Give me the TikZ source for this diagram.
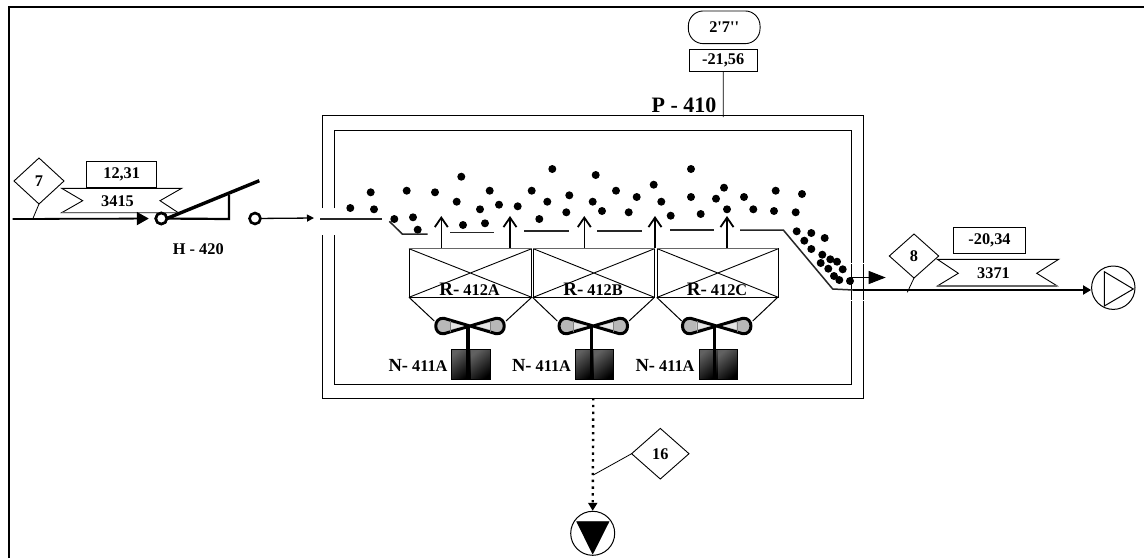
\documentclass[tikz,border=0pt]{standalone}
\usepackage{fontspec}
\setmainfont{Liberation Serif}
\newfontfamily\rawf{Liberation Serif}
\usetikzlibrary{arrows.meta,shapes.geometric,calc}
\tikzset{
  lbl/.style={font=\fontsize{16.3}{18}\selectfont\bfseries,inner sep=0pt,outer sep=0pt},
  bigl/.style={font=\fontsize{22}{24}\selectfont\bfseries,inner sep=0pt,outer sep=0pt},
  tag/.style={draw,line width=0.9pt,diamond,aspect=1.08,inner sep=0pt,outer sep=0pt,lbl},
  valbox/.style={draw,line width=0.9pt,rectangle,inner sep=0pt,outer sep=0pt,lbl},
  ring/.style={circle,draw,line width=2.6pt,inner sep=0pt,outer sep=0pt,minimum size=11pt,fill=white},
  thin line/.style={line width=0.8pt},
  belt/.style={line width=1.5pt,draw=black!85},
  flow/.style={line width=1.8pt},
  upflow/.style={line width=1.2pt,-{Straight Barb[length=9.5pt,width=13pt,line width=1.8pt]}},
  pelt/.style={circle,fill=black,inner sep=0pt,minimum size=8pt},
}
\newcommand{\tankunit}[2]{% left, right
  \draw[line width=1pt] (#1,248.7) rectangle (#2,297.3);
  \draw[line width=0.9pt] (#1,248.7) -- (#2,297.3) (#2,248.7) -- (#1,297.3);
  \draw[line width=1.5pt,draw=black!60] (#1,248.7) -- (#2,248.7);
}
\newcommand{\blowerunit}[3]{% centre x, motor left, motor right
  \draw[line width=3pt,fill=black!28,line join=round]
    (#1,326) -- (#1-26,318.3)
    .. controls (#1-37,317) and (#1-37,335) .. (#1-26,333.7)
    -- (#1,326)
    -- (#1+26,318.3)
    .. controls (#1+37,317) and (#1+37,335) .. (#1+26,333.7)
    -- cycle;
  \fill[black!10] (#1-20,322.5) -- (#1-20,329.5) -- (#1-6,326) -- cycle;
  \fill[black!10] (#1+20,322.5) -- (#1+20,329.5) -- (#1+6,326) -- cycle;
  \draw[line width=0.4pt,black!50] (#1-20,320.5) -- (#1-20,331.5) (#1+20,320.5) -- (#1+20,331.5);
  \shade[top color=black!62,bottom color=black,shading angle=40] (#2,349) rectangle ({(#2+#3)/2},379.5);
  \shade[top color=black!62,bottom color=black,shading angle=40] ({(#2+#3)/2},349) rectangle (#3,379.5);
  \draw[line width=1pt] (#2,349) rectangle (#3,379.5);
  \draw[line width=3.2pt] (#1-2,326) -- (#1-2,380);
}
\begin{document}
\begin{tikzpicture}[x=1pt,y=-1pt]
\useasboundingbox (0,0) rectangle (1144,558);
\fill[white] (0,0) rectangle (1144,558);
% frame
\draw[line width=2pt] (8.7,558) -- (8.7,6.7) -- (1144,6.7);

% vessel double wall with the inlet gap
\draw[line width=1pt] (322,208) -- (322,115) -- (863,115) -- (863,398) -- (322,398) -- (322,235);
\draw[line width=1pt] (334,208) -- (334,130.5) -- (851,130.5) -- (851,384) -- (334,384) -- (334,235);
\draw[white,line width=0.8pt] (849,263) -- (866,263) (849,300) -- (866,300);

% pellets
\foreach \px/\py in {350.3/208,370.7/192.3,374/209.3,406.7/190.7,394.3/219,413/217.3,417.7/229.7,435/192.3,461.3/176.7,456.7/201.7,489.7/190.7,480/209.3,499/204.7,517.7/206.3,463/225,485/223.3,531.7/190.7,552.3/169,547.3/201.7,569.3/195.3,539.3/219,566.3/212.3,595.7/175,592.7/201.7,602/211,616/190.7,628.7/212.3,636.7/197,653.7/184.7,661.3/201.7,670.7/215.7,691/169,691/197,700.7/214,716/198.7,724/187.7,727/209.3,744/197,753.3/209.3,775.7/190.7,774/211,802/194,795.7/212.3,796.7/231.3,811.3/233,824.7/238,804.3/240.7,811.3/249,822.3/254.7,830.3/259.3,837/261.7,820.7/263,828.3/268.7,842.7/269.3,834/276,839.3/280,850/281}
  \node[pelt] at (\px,\py) {};

% belts
\draw[belt] (320,219) -- (382,219);
\draw[belt] (389.3,221.3) -- (402.3,234) -- (427.7,234);
\draw[belt] (450,232.7) -- (494.3,232.7);
\draw[belt] (524.3,231) -- (568.7,231);
\draw[belt] (597.3,231) -- (641.7,231);
\draw[belt] (670,230) -- (714,230);
\draw[belt] (740,230) -- (783.3,230) -- (832.7,289) -- (853,290);

% tanks
\tankunit{409}{531.7}
\tankunit{533.3}{654.5}
\tankunit{657.3}{778.3}
\coordinate (ua1) at (441.3,248); \coordinate (ua2) at (441.3,216);
\coordinate (ub1) at (510,248);   \coordinate (ub2) at (510,216);
\coordinate (uc1) at (584.3,248); \coordinate (uc2) at (584.3,216);
\coordinate (ud1) at (655,248);   \coordinate (ud2) at (655,216);
\coordinate (ue1) at (727,248);   \coordinate (ue2) at (727,216);
\draw[upflow] (ua1) -- (ua2);
\draw[upflow] (ub1) -- (ub2);
\draw[upflow] (uc1) -- (uc2);
\draw[upflow] (ud1) -- (ud2);
\draw[upflow] (ue1) -- (ue2);

% hopper sides
\draw[line width=1pt] (409,297.3) -- (434.3,321) (531.7,297.3) -- (506,321)
  (532.5,297.3) -- (557.3,321) (654.5,297.3) -- (629,321)
  (656.7,297.3) -- (681.7,321) (777.7,297.3) -- (752.7,321);

\node[lbl,anchor=base] (ra) at (469.5,295.5) {{\fontsize{19}{20}\selectfont R-} 412A};
\node[lbl,anchor=base] (rb) at (593,295.5) {{\fontsize{19}{20}\selectfont R-} 412B};
\node[lbl,anchor=base] (rc) at (717,295.5) {{\fontsize{19}{20}\selectfont R-} 412C};

\blowerunit{470}{451.7}{490.7}
\blowerunit{593.3}{575}{613.3}
\blowerunit{716.7}{699}{737.3}

\node[lbl,anchor=base] (na) at (418,371.5) {{\fontsize{18.5}{19}\selectfont N-} 411A};
\node[lbl,anchor=base] (nb) at (541.5,371.5) {{\fontsize{18.5}{19}\selectfont N-} 411A};
\node[lbl,anchor=base] (nc) at (665,371.5) {{\fontsize{18.5}{19}\selectfont N-} 411A};

% top instrument
\node[draw,line width=0.9pt,rectangle,rounded corners=15pt,minimum width=71.7pt,minimum height=32.7pt,inner sep=0pt,lbl] (pill) at (724.2,27.3) {\rawf 2'7''};
\node[valbox,minimum width=68.3pt,minimum height=22.7pt] (v2156) at (723.2,60.3) {-21,56};
\coordinate (vesseltop) at (723.3,117);
\draw[thin line] (v2156) -- (vesseltop);
\node[bigl] (p410) at (684,105) {P - 410};

% inlet
\coordinate (inA) at (12.7,219);
\node[tag,minimum width=50pt,minimum height=46pt] (t7) at (39,181) {7};
\node[valbox,minimum width=70pt,minimum height=26pt] (v1231) at (121.7,174.7) {12,31};
\draw[line width=0.9pt] (61.7,188.3) -- (181.7,188.3) -- (160,200.7) -- (178.3,212.7) -- (61.7,212.7) -- (82.7,200.7) -- cycle;
\draw[line width=1.2pt,black!60] (61.7,212.7) -- (178.3,212.7);
\node[lbl] (f3415) at (117.5,201) {3415};
\coordinate (stem7) at (32.7,219);
\draw[thin line] (t7.south) -- (stem7);
% screen H-420
\node[ring] (r1) at (161.3,218.5) {};
\coordinate (hbase) at (229,219); \coordinate (hup) at (229,195); \coordinate (htop) at (259.3,180.7);
\draw[line width=2.2pt] (r1) -- (hbase) -- (hup);
\draw[line width=3.4pt] (r1.east) -- (htop);
\node[ring] at (r1) {};
\draw[flow,shorten >=7pt,-{Triangle[length=12pt,width=13pt]}] (inA) -- (r1);
\node[ring] (r2) at (255,218.5) {};
\coordinate (gate) at (314,218);
\draw[line width=1.3pt,-{Triangle[length=7pt,width=7pt]}] (r2) -- (gate);
\node[lbl] (h420) at (198.3,249.5) {H - 420};

% outlet
\coordinate (oA) at (853,290);
\node[draw,circle,line width=1pt,minimum size=43.4pt,inner sep=0pt] (pump) at (1113.3,287.7) {};
\draw[line width=1pt] (1104.3,271.7) -- (1104.3,306) -- (1133.3,289) -- cycle;
\draw[flow,-{Triangle[length=8pt,width=9pt]}] (oA) -- (pump.west |- oA);
\coordinate (dropdot) at (850,277.5);
\coordinate (dropend) at (885.7,277.5);
\draw[line width=1pt,-{Triangle[length=17pt,width=13pt]}] (dropdot) -- (dropend);
\node[tag,minimum width=49.4pt,minimum height=44pt] (t8) at (914,256) {8};
\coordinate (stem8) at (907.3,292.3);
\draw[thin line] (t8.south) -- (stem8);
\node[valbox,minimum width=71.6pt,minimum height=25.6pt] (v2034) at (989.5,240.5) {-20,34};
\draw[line width=0.9pt] (937.3,259.3) -- (1058.7,259.3) -- (1036.7,273.3) -- (1057.3,286) -- (937.3,286) -- (958.3,273.3) -- cycle;
\draw[line width=1.2pt,black!60] (937.3,286) -- (1057.3,286);
\node[lbl] (f3371) at (993.5,273.3) {3371};

% drain
\coordinate (vesselbot) at (593.3,398);
\node[draw,circle,line width=1pt,minimum size=44pt,inner sep=0pt] (sink) at (592.7,533.3) {};
\draw[fill=black,line width=0.5pt] (576.7,521.7) -- (609,521.7) -- (592.7,554) -- cycle;
\draw[line width=2.4pt,dash pattern=on 2.4pt off 4.4pt,-{Triangle[length=8pt,width=9pt]}] (vesselbot) -- (sink.north);
\node[tag,minimum width=57.4pt,minimum height=50.6pt] (t16) at (660.3,453.7) {16};
\coordinate (stem16) at (593.3,475);
\draw[thin line] (t16.west) -- (stem16);
\end{tikzpicture}
\end{document}
